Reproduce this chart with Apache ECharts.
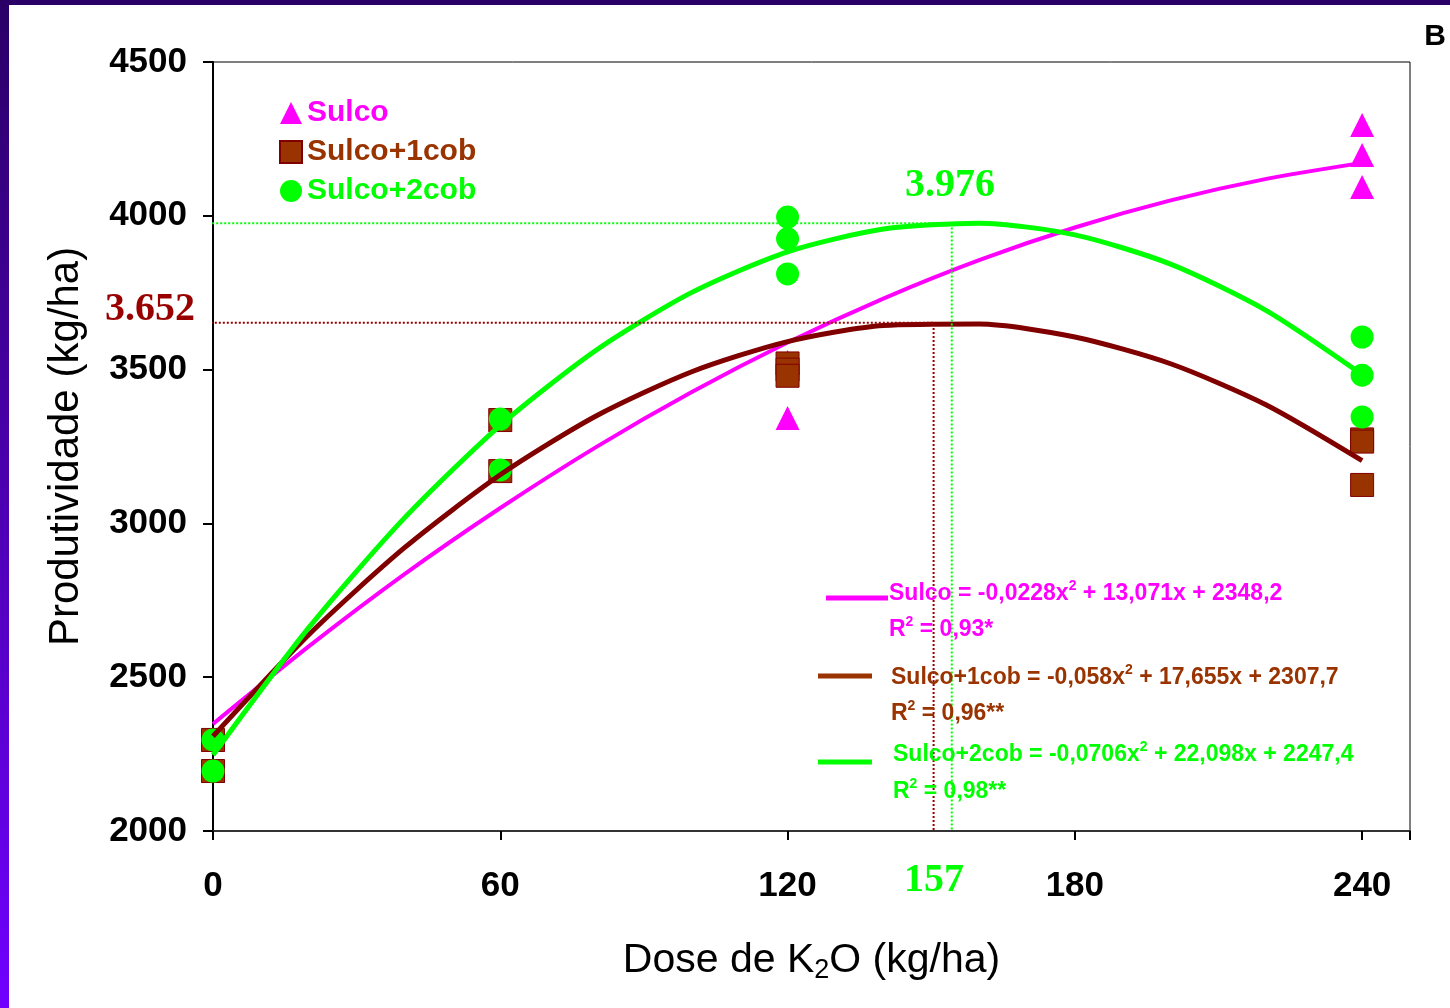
<!DOCTYPE html>
<html>
<head>
<meta charset="utf-8">
<script src="https://cdn.jsdelivr.net/npm/echarts@6/dist/echarts.min.js"></script>
<style>
  html, body { margin: 0; padding: 0; width: 1450px; height: 1008px; overflow: hidden;
    background: linear-gradient(to bottom, #2a0066, #7000ff); }
  #chart { position: absolute; left: 9px; top: 5px; width: 1441px; height: 1003px; background: #fff; }
</style>
</head>
<body>
<div id="chart"></div>
<script>
// observed points (dose, yield)
const sulcoPts = [[0, 2296], [0, 2195], [60, 3336], [60, 3170], [120, 3525], [120, 3343], [240, 4295], [240, 4198], [240, 4094]];
const cob1Pts = [[0, 2296], [0, 2195], [60, 3336], [60, 3170], [120, 3520], [120, 3500], [120, 3480], [240, 3273], [240, 3266], [240, 3125]];
const cob2Pts = [[0, 2296], [0, 2195], [60, 3339], [60, 3174], [120, 3996], [120, 3925], [120, 3811], [240, 3606], [240, 3482], [240, 3346]];

// fitted curves
const curveX = [0, 20, 40, 60, 80, 100, 120, 140, 160, 180, 200, 220, 240];
const sulcoFit = [2348, 2600, 2835, 3050, 3248, 3427, 3588, 3731, 3856, 3962, 4050, 4120, 4172];
const cob1Fit = [2308, 2638, 2921, 3158, 3349, 3493, 3591, 3643, 3648, 3606, 3519, 3385, 3204];
const cob2Fit = [2247, 2661, 3018, 3319, 3563, 3751, 3883, 3957, 3976, 3938, 3843, 3692, 3484];

// maxima markers
const cob1Peak = [150.5, 3652];
const cob2Peak = [154.3, 3976];

const xTicks = [0, 60, 120, 180, 240];

const MAG = '#FF00FF', BRN = '#993300', DRK = '#800000', GRN = '#00FF00';
const SANS = 'Liberation Sans, Arial, sans-serif';
const SERIF = 'Liberation Serif, Times New Roman, serif';

const zip = (xs, ys) => xs.map((x, i) => [x, ys[i]]);

const eqText = (x, y, color, parts) => ({
  type: 'text', x: x, y: y, z: 50,
  style: {
    text: parts, fill: color, verticalAlign: 'middle',
    rich: {
      a: { fontSize: 23, fontWeight: 'bold', fontFamily: SANS, fill: color },
      s: { fontSize: 14, fontWeight: 'bold', fontFamily: SANS, fill: color, padding: [0, 0, 16, 0] }
    }
  }
});

const keyLine = (x1, x2, y, color) => ({
  type: 'line', z: 50, shape: { x1: x1, y1: y, x2: x2, y2: y },
  style: { stroke: color, lineWidth: 5 }
});

const bigLabel = (x, y, txt, color) => ({
  type: 'text', x: x, y: y, z: 50,
  style: { text: txt, fill: color, font: 'bold 40px ' + SERIF, align: 'center', verticalAlign: 'middle' }
});

const chart = echarts.init(document.getElementById('chart'));

const option = {
  animation: false,
  grid: { left: 204, right: 40, top: 57, bottom: 177, show: true, borderColor: '#000', borderWidth: 1 },
  legend: {
    orient: 'vertical', left: 265, top: 88, itemWidth: 22, itemHeight: 22, itemGap: 9,
    textStyle: { fontSize: 30, fontWeight: 'bold', fontFamily: SANS, lineHeight: 30 },
    data: [
      { name: 'Sulco', icon: 'triangle', textStyle: { color: MAG } },
      { name: 'Sulco+1cob', icon: 'rect', textStyle: { color: BRN } },
      { name: 'Sulco+2cob', icon: 'circle', textStyle: { color: GRN } }
    ]
  },
  xAxis: {
    type: 'value', min: 0, max: 250, interval: 60,
    name: '{a|Dose de K}{s|2}{a|O (kg/ha)}', nameLocation: 'middle', nameGap: 106,
    nameTextStyle: {
      rich: {
        a: { fontSize: 41, fontFamily: SANS, color: '#000' },
        s: { fontSize: 27, fontFamily: SANS, color: '#000', padding: [20, 0, 0, 0] }
      }
    },
    axisLine: { lineStyle: { color: '#333', width: 2 } },
    axisTick: { inside: false, length: 9, lineStyle: { color: '#000', width: 2 } },
    axisLabel: {
      fontSize: 35, fontWeight: 'bold', fontFamily: SANS, color: '#000', margin: 38,
      formatter: v => (xTicks.indexOf(v) >= 0 ? String(v) : '')
    },
    splitLine: { show: false }
  },
  yAxis: {
    type: 'value', min: 2000, max: 4500, interval: 500,
    name: 'Produtividade (kg/ha)', nameLocation: 'middle', nameGap: 126,
    nameTextStyle: { fontSize: 42, fontFamily: SANS, color: '#000' },
    axisLine: { show: true, lineStyle: { color: '#000', width: 2 } },
    axisTick: { show: true, inside: false, length: 10, lineStyle: { color: '#000', width: 2 } },
    axisLabel: { fontSize: 35, fontWeight: 'bold', fontFamily: SANS, color: '#000', margin: 26,
      formatter: v => String(v) },
    splitLine: { show: false }
  },
  series: [
    { name: 'Sulco', type: 'scatter', symbol: 'triangle', symbolSize: 24, z: 3,
      itemStyle: { color: MAG, opacity: 1 }, data: sulcoPts },
    { name: 'Sulco+1cob', type: 'scatter', symbol: 'rect', symbolSize: 23, z: 4,
      itemStyle: { color: BRN, borderColor: DRK, borderWidth: 1, opacity: 1 }, data: cob1Pts },
    { name: 'Sulco+2cob', type: 'scatter', symbol: 'circle', symbolSize: 23, z: 5,
      itemStyle: { color: GRN, opacity: 1 }, data: cob2Pts },
    { name: 'fitSulco', type: 'line', smooth: 0.25, showSymbol: false, z: 6, silent: true,
      lineStyle: { color: MAG, width: 4 }, data: zip(curveX, sulcoFit) },
    { name: 'fitCob1', type: 'line', smooth: 0.25, showSymbol: false, z: 7, silent: true,
      lineStyle: { color: DRK, width: 5 }, data: zip(curveX, cob1Fit) },
    { name: 'fitCob2', type: 'line', smooth: 0.25, showSymbol: false, z: 8, silent: true,
      lineStyle: { color: GRN, width: 5 }, data: zip(curveX, cob2Fit) },
    { name: 'peakCob1', type: 'line', showSymbol: false, clip: false, z: 9, silent: true,
      lineStyle: { color: '#990000', width: 2, type: 'dotted' },
      data: [[-3.8, cob1Peak[1]], cob1Peak, [cob1Peak[0], 2000]] },
    { name: 'peakCob2', type: 'line', showSymbol: false, clip: false, z: 9, silent: true,
      lineStyle: { color: GRN, width: 2, type: 'dotted' },
      data: [[-1, cob2Peak[1]], cob2Peak, [cob2Peak[0], 2000]] }
  ],
  graphic: [
    bigLabel(141, 305, '3.652', '#990000'),
    bigLabel(941, 181, '3.976', GRN),
    bigLabel(925, 876, '157', GRN),
    { type: 'text', x: 1426, y: 32, z: 50,
      style: { text: 'B', fill: '#000', font: 'bold 30px ' + SANS, align: 'center', verticalAlign: 'middle' } },
    keyLine(817, 879, 593, MAG),
    eqText(880, 589, MAG, '{a|Sulco = -0,0228x}{s|2}{a| + 13,071x + 2348,2}'),
    eqText(880, 625, MAG, '{a|R}{s|2}{a| = 0,93*}'),
    keyLine(809, 863, 671, BRN),
    eqText(882, 673, BRN, '{a|Sulco+1cob = -0,058x}{s|2}{a| + 17,655x + 2307,7}'),
    eqText(882, 709, BRN, '{a|R}{s|2}{a| = 0,96**}'),
    keyLine(809, 863, 757, GRN),
    eqText(884, 750, GRN, '{a|Sulco+2cob = -0,0706x}{s|2}{a| + 22,098x + 2247,4}'),
    eqText(884, 787, GRN, '{a|R}{s|2}{a| = 0,98**}')
  ]
};

chart.setOption(option);

window.addEventListener('resize', function () {
  chart.resize();
});
</script>
</body>
</html>
